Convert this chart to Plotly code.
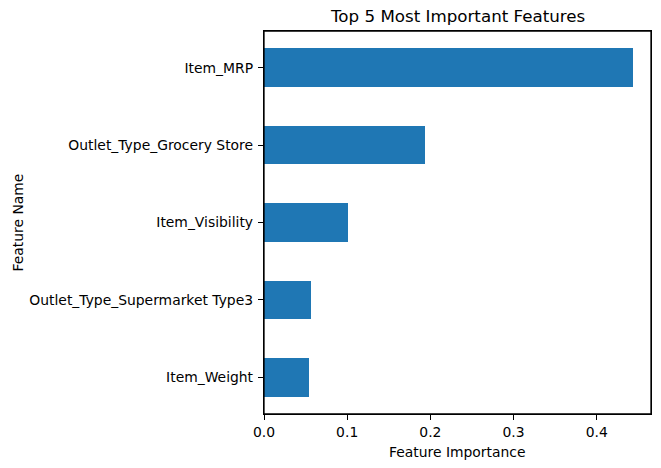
import plotly.graph_objects as go

features = ["Item_Weight", "Outlet_Type_Supermarket Type3", "Item_Visibility",
            "Outlet_Type_Grocery Store", "Item_MRP"]
importance = [0.0538, 0.0562, 0.1007, 0.1934, 0.4433]
x_ticks = [0.0, 0.1, 0.2, 0.3, 0.4]
x_tick_labels = ["0.0", "0.1", "0.2", "0.3", "0.4"]

FONT = "DejaVu Sans"
FS = 13.9

fig = go.Figure(go.Bar(
    x=importance, y=features, orientation="h",
    marker=dict(color="#1f77b4", line=dict(width=0)),
    width=0.5,
))

fig.update_layout(
    width=661, height=468,
    margin=dict(l=264, r=10, t=31, b=54, autoexpand=False),
    paper_bgcolor="white", plot_bgcolor="white",
    font=dict(family=FONT, size=FS, color="black"),
    showlegend=False,
    bargap=0,
)
fig.update_xaxes(
    range=[0, 0.4653], tickvals=x_ticks, ticktext=x_tick_labels,
    showgrid=False, zeroline=False, automargin=False,
    showline=True, linecolor="black", linewidth=1.3, mirror=True,
    ticks="outside", ticklen=5, tickcolor="black", tickwidth=1.1,
    tickfont=dict(family=FONT, size=FS, color="black"),
)
fig.update_yaxes(
    type="category", categoryorder="array", categoryarray=features,
    range=[-0.475, 4.475],
    showgrid=False, zeroline=False, automargin=False,
    showline=True, linecolor="black", linewidth=1.3, mirror=True,
    ticks="outside", ticklen=5, tickcolor="black", tickwidth=1.1,
    ticklabelstandoff=2,
    tickfont=dict(family=FONT, size=FS, color="black"),
)
# axes frame (all four spines)
fig.add_shape(type="rect", xref="paper", yref="paper", x0=0, x1=1, y0=0, y1=1,
              line=dict(color="black", width=1.3), fillcolor="rgba(0,0,0,0)",
              layer="above")
fig.add_annotation(text="Top 5 Most Important Features", xref="paper", yref="paper",
                   x=0.5, y=1, yshift=15, xanchor="center", yanchor="middle",
                   showarrow=False,
                   font=dict(family=FONT, size=16.7, color="black"))
fig.add_annotation(text="Feature Importance", xref="paper", yref="paper",
                   x=0.5, y=0, yshift=-38, xanchor="center", yanchor="middle",
                   showarrow=False,
                   font=dict(family=FONT, size=FS, color="black"))
fig.add_annotation(text="Feature Name", xref="paper", yref="paper",
                   x=0, xshift=-247, y=0.5, xanchor="center", yanchor="middle",
                   textangle=-90, showarrow=False,
                   font=dict(family=FONT, size=FS, color="black"))

fig.write_html("out.html",
               config={"displayModeBar": False},
               post_script="document.body.style.margin='0';document.body.style.overflow='hidden';")
